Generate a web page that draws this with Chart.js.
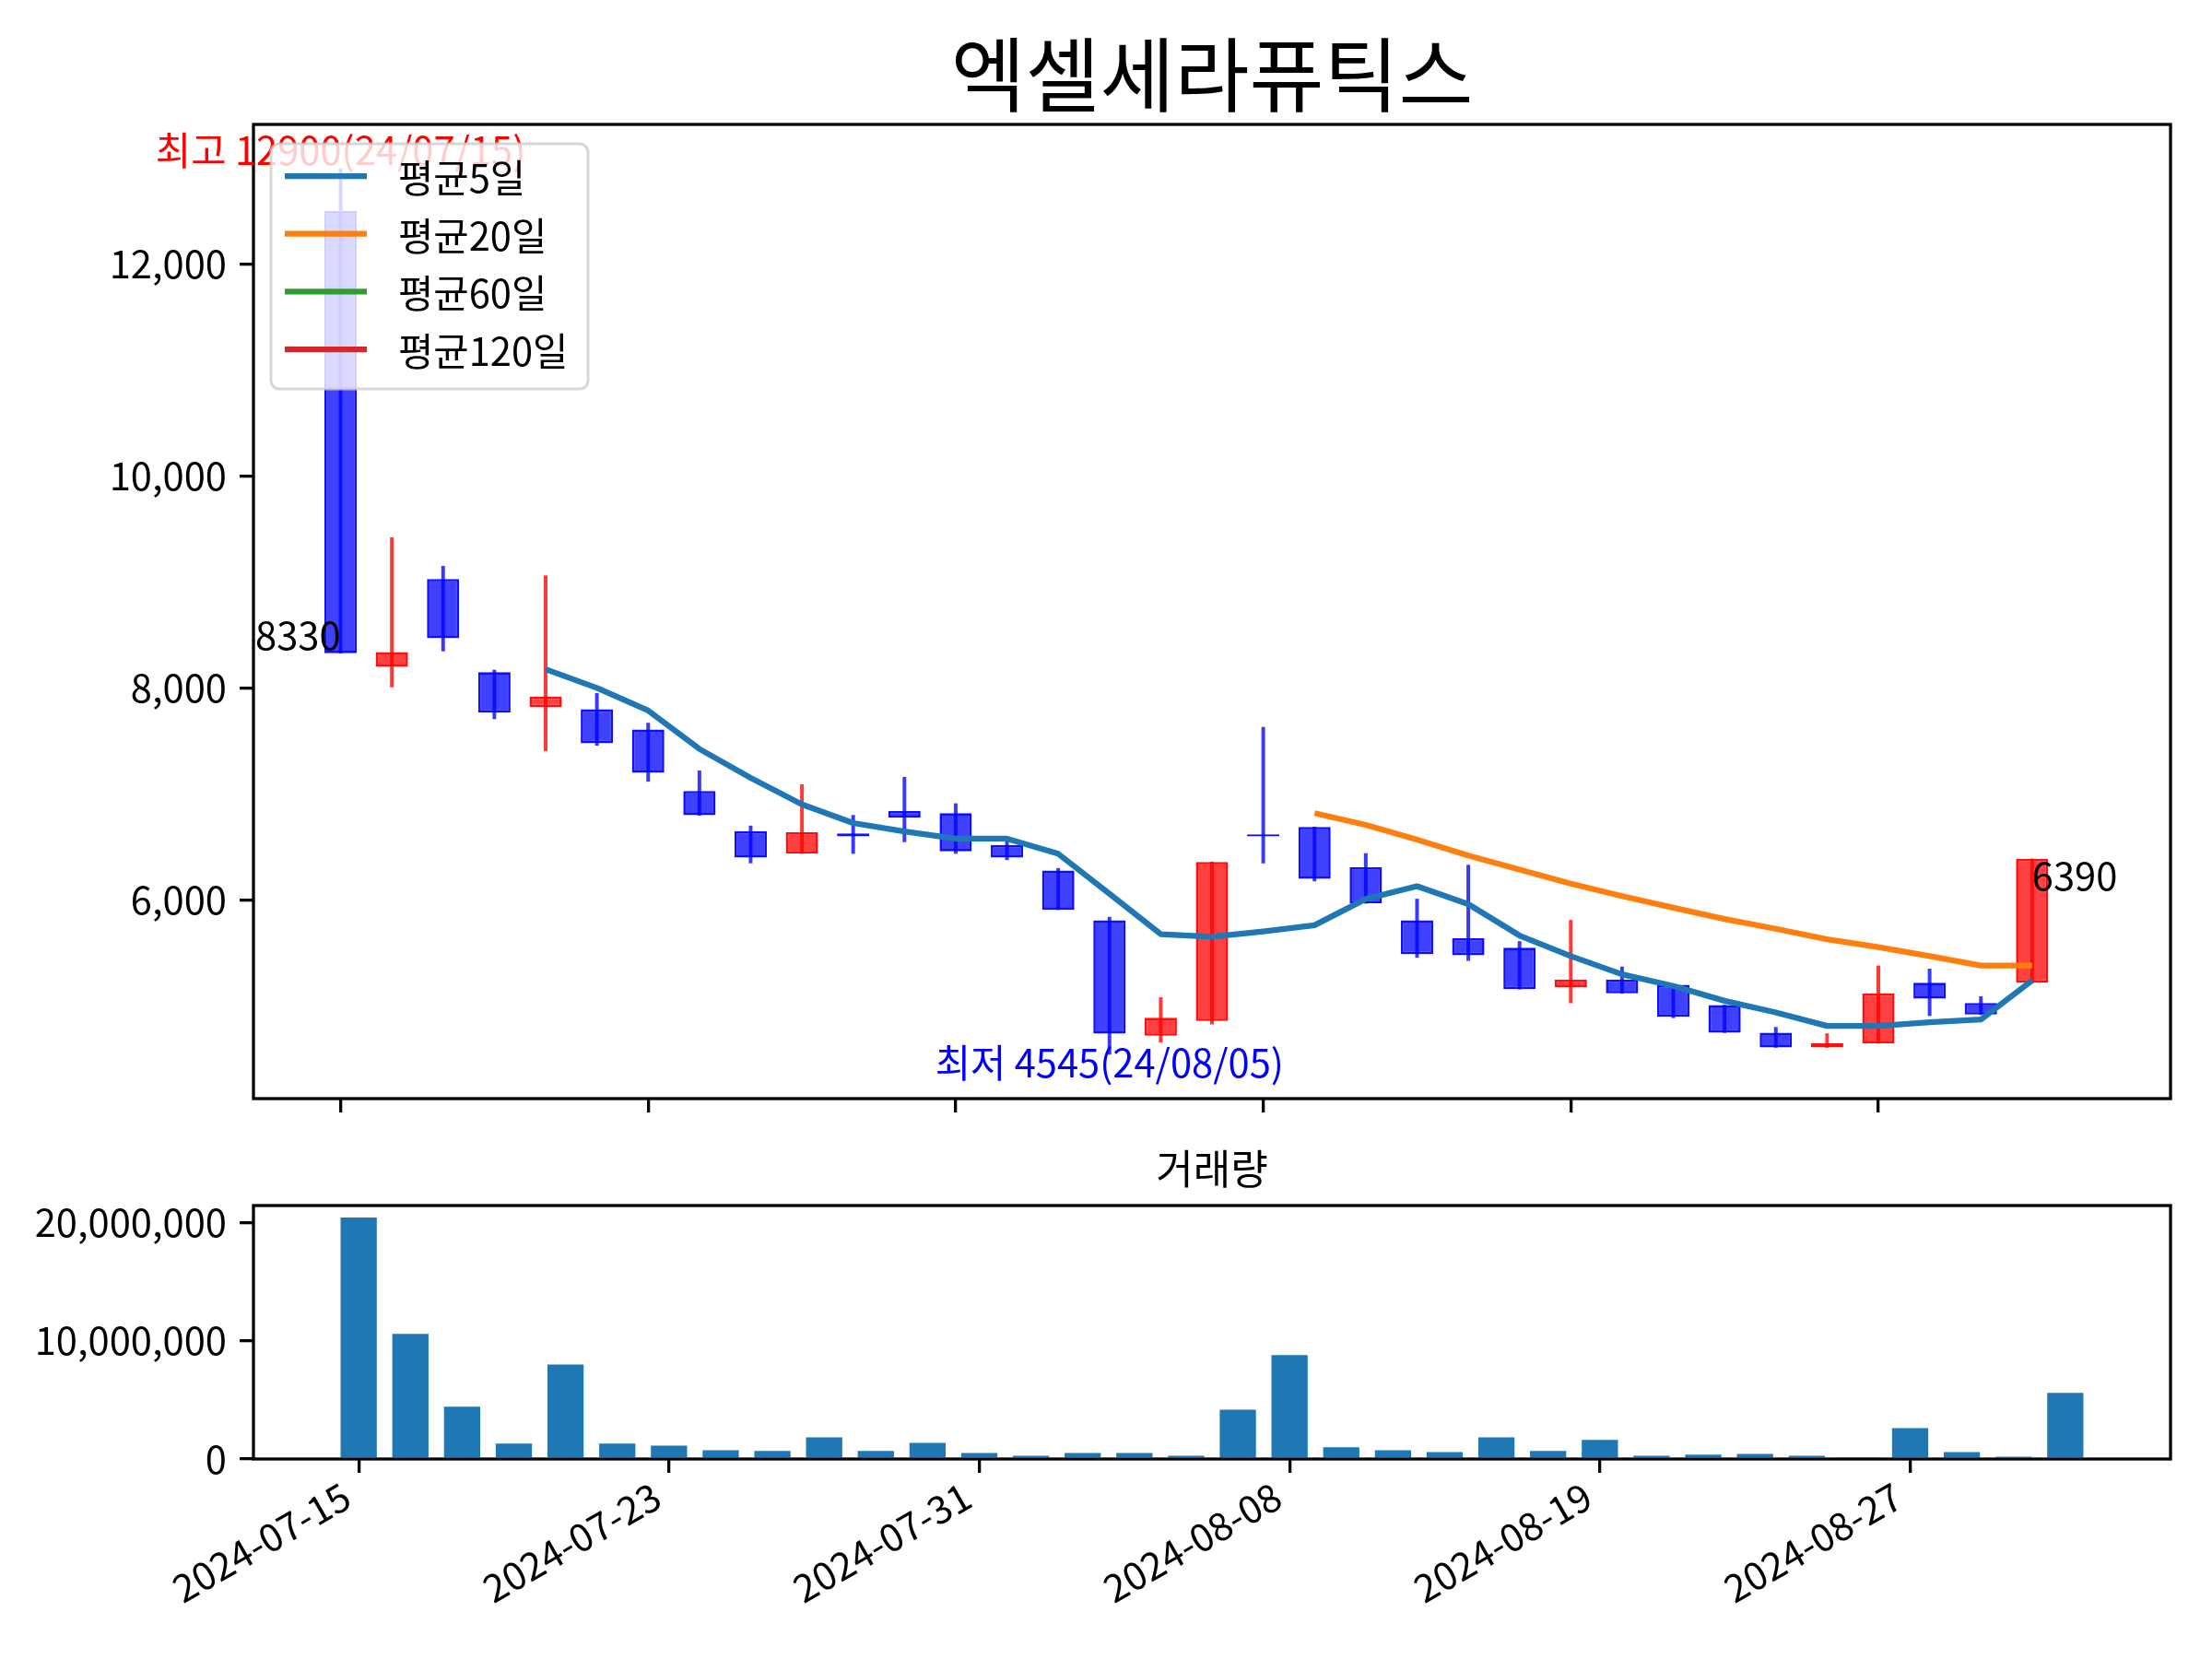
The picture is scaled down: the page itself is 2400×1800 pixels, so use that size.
<!DOCTYPE html>
<html>
<head>
<meta charset="utf-8">
<script src="https://cdn.jsdelivr.net/npm/chart.js@4.4.1/dist/chart.umd.min.js"></script>
<style>
html,body{margin:0;padding:0;background:#ffffff;}
body{width:2400px;height:1800px;position:relative;overflow:hidden;}
#wrapMain{position:absolute;left:0;top:0;width:2400px;height:1240px;}
#wrapVol{position:absolute;left:0;top:1200px;width:2400px;height:600px;}
canvas{display:block;}
</style>
</head>
<body>
<div id="wrapMain"><canvas id="main" width="2400" height="1240"></canvas></div>
<div id="wrapVol"><canvas id="vol" width="2400" height="600"></canvas></div>
<script>
// ---------------- data ----------------
const chartTitle = '엑셀세라퓨틱스';
const volumeTitle = '거래량';
const dates = ['2024-07-15','2024-07-16','2024-07-17','2024-07-18','2024-07-19','2024-07-22','2024-07-23','2024-07-24','2024-07-25','2024-07-26','2024-07-29','2024-07-30','2024-07-31','2024-08-01','2024-08-02','2024-08-05','2024-08-06','2024-08-07','2024-08-08','2024-08-09','2024-08-12','2024-08-13','2024-08-14','2024-08-16','2024-08-19','2024-08-20','2024-08-21','2024-08-22','2024-08-23','2024-08-26','2024-08-27','2024-08-28','2024-08-29','2024-08-30'];
const opens  = [12500,8200,9030,8150,7820,7800,7610,7030,6650,6440,6630,6840,6820,6520,6280,5810,4720,4860,6620,6690,6310,5810,5640,5550,5180,5250,5200,5010,4750,4610,4650,5220,5030,5220];
const highs  = [12900,9420,9150,8170,9060,7950,7670,7220,6700,7090,6800,7160,6910,6570,6300,5840,5080,6360,7630,6690,6440,6010,6330,5610,5810,5370,5200,5010,4800,4740,5380,5350,5090,6390];
const lows   = [8330,8010,8350,7710,7410,7460,7120,6800,6350,6440,6440,6550,6440,6380,5910,4545,4660,4830,6350,6180,5970,5460,5430,5160,5030,5120,4890,4750,4610,4610,4650,4910,4920,5220];
const closes = [8330,8340,8470,7770,7920,7480,7200,6800,6400,6640,6600,6780,6460,6400,5910,4740,4890,6360,6600,6200,5970,5490,5480,5160,5250,5120,4900,4750,4610,4650,5120,5070,4920,6390];
const volumes = [20400000,10570000,4420000,1300000,7990000,1300000,1130000,740000,680000,1840000,680000,1360000,510000,280000,510000,510000,280000,4160000,8780000,990000,740000,590000,1840000,680000,1610000,280000,370000,420000,280000,110000,2610000,590000,200000,5580000];
const ma5  = [null,null,null,null,8178,8002,7788,7426,7153,6903,6727,6647,6580,6580,6437,6060,5679,5655,5705,5763,6011,6131,5962,5666,5472,5300,5190,5050,4940,4813,4813,4847,4873,5242];
const ma20 = [null,null,null,null,null,null,null,null,null,null,null,null,null,null,null,null,null,null,null,6820,6710,6570,6421,6288,6155,6038,5928,5822,5729,5630,5556,5472,5383,5383];
const ma60 = [];
const ma120 = [];
const maLabels = ['평균5일','평균20일','평균60일','평균120일'];
const dateTickIndex = [0,6,12,18,24,30];
const priceTicks = [6000,8000,10000,12000];
const volumeTicks = [0,10000000,20000000];

// ---------------- styling ----------------
const FONT = '"Noto Sans CJK KR", "Noto Sans", sans-serif';
const FS = 41.7;
Chart.defaults.font.family = FONT;
Chart.defaults.color = '#000000';

const idx = dates.map((d, i) => i);
const isUp = idx.map(i => closes[i] > opens[i]);
const bodyFill = idx.map(i => isUp[i] ? 'rgba(255,0,0,0.75)' : 'rgba(0,0,255,0.75)');
const bodyEdge = idx.map(i => isUp[i] ? 'rgba(255,0,0,0.94)' : 'rgba(0,0,255,0.94)');
const wickColor = idx.map(i => isUp[i] ? 'rgba(255,0,0,0.78)' : 'rgba(0,0,255,0.78)');
const toPoints = arr => idx.filter(i => arr[i] !== null && arr[i] !== undefined).map(i => ({x: i, y: arr[i]}));

const tickGrid = {drawOnChartArea: false, drawTicks: true, tickLength: 15, tickWidth: 3.3, tickColor: '#000000', color: '#000000', lineWidth: 3.3, offset: false};

function roundRectPath(ctx, x, y, w, h, r) {
  ctx.beginPath();
  ctx.moveTo(x + r, y);
  ctx.lineTo(x + w - r, y);
  ctx.arcTo(x + w, y, x + w, y + r, r);
  ctx.lineTo(x + w, y + h - r);
  ctx.arcTo(x + w, y + h, x + w - r, y + h, r);
  ctx.lineTo(x + r, y + h);
  ctx.arcTo(x, y + h, x, y + h - r, r);
  ctx.lineTo(x, y + r);
  ctx.arcTo(x, y, x + r, y, r);
  ctx.closePath();
}

const mainOverlay = {
  id: 'mainOverlay',
  afterDatasetsDraw(chart) {
    const {ctx, chartArea: a} = chart;
    const xs = chart.scales.x, ys = chart.scales.y;
    ctx.save();
    // frame
    ctx.lineWidth = 3.3; ctx.strokeStyle = '#000000';
    ctx.strokeRect(a.left, a.top, a.right - a.left, a.bottom - a.top);
    // annotations
    ctx.font = FS + 'px ' + FONT;
    let hi = 0; highs.forEach((v, i) => { if (v > highs[hi]) hi = i; });
    let lo = 0; lows.forEach((v, i) => { if (v < lows[lo]) lo = i; });
    const fmt = d => d.slice(2).replace(/-/g, '/');
    ctx.fillStyle = '#ff0000'; ctx.textAlign = 'center'; ctx.textBaseline = 'alphabetic';
    ctx.fillText('최고 ' + highs[hi] + '(' + fmt(dates[hi]) + ')', xs.getPixelForValue(hi), ys.getPixelForValue(highs[hi]) - 4);
    ctx.fillStyle = '#0000ff'; ctx.textBaseline = 'top';
    ctx.fillText('최저 ' + lows[lo] + '(' + fmt(dates[lo]) + ')', xs.getPixelForValue(lo), ys.getPixelForValue(lows[lo]) - 12);
    ctx.fillStyle = '#000000'; ctx.textAlign = 'right'; ctx.textBaseline = 'alphabetic';
    ctx.fillText(String(closes[0]), xs.getPixelForValue(0), ys.getPixelForValue(closes[0]) - 4);
    const n = closes.length - 1;
    ctx.textAlign = 'left'; ctx.textBaseline = 'top';
    ctx.fillText(String(closes[n]), xs.getPixelForValue(n), ys.getPixelForValue(closes[n]) - 2);
    // legend
    const L = a.left + 19, T = a.top + 21, W = 344, H = 266;
    roundRectPath(ctx, L, T, W, H, 9);
    ctx.fillStyle = 'rgba(255,255,255,0.8)'; ctx.fill();
    ctx.lineWidth = 3; ctx.strokeStyle = 'rgba(204,204,204,0.8)'; ctx.stroke();
    ctx.textAlign = 'left'; ctx.textBaseline = 'middle';
    for (let k = 0; k < 4; k++) {
      const ds = chart.data.datasets[k];
      const yy = T + 35 + k * 62.7;
      ctx.strokeStyle = ds.borderColor; ctx.lineWidth = 6.25; ctx.lineCap = 'butt';
      ctx.beginPath(); ctx.moveTo(L + 15, yy); ctx.lineTo(L + 104, yy); ctx.stroke();
      ctx.fillStyle = '#000000';
      ctx.fillText(ds.label, L + 138, yy + 2);
    }
    ctx.restore();
  }
};

const volOverlay = {
  id: 'volOverlay',
  afterDatasetsDraw(chart) {
    const {ctx, chartArea: a} = chart;
    ctx.save();
    ctx.lineWidth = 3.3; ctx.strokeStyle = '#000000';
    ctx.strokeRect(a.left, a.top, a.right - a.left, a.bottom - a.top);
    ctx.restore();
  }
};

// ---------------- main price chart ----------------
new Chart(document.getElementById('main'), {
  type: 'bar',
  data: {
    datasets: [
      {type: 'line', label: maLabels[0], data: toPoints(ma5), borderColor: '#1f77b4', borderWidth: 6.25, pointRadius: 0, tension: 0, order: 0, borderJoinStyle: 'round'},
      {type: 'line', label: maLabels[1], data: toPoints(ma20), borderColor: '#ff7f0e', borderWidth: 6.25, pointRadius: 0, tension: 0, order: 0, borderJoinStyle: 'round'},
      {type: 'line', label: maLabels[2], data: toPoints(ma60), borderColor: '#2ca02c', borderWidth: 6.25, pointRadius: 0, order: 0},
      {type: 'line', label: maLabels[3], data: toPoints(ma120), borderColor: '#d62728', borderWidth: 6.25, pointRadius: 0, order: 0},
      {type: 'bar', label: 'wick', data: idx.map(i => ({x: i, y: [lows[i], highs[i]]})), backgroundColor: wickColor, borderWidth: 0, barThickness: 3.3, grouped: false, order: 1},
      {type: 'bar', label: 'body', data: idx.map(i => ({x: i, y: [opens[i], closes[i]]})), backgroundColor: bodyFill, borderColor: bodyEdge, borderWidth: 2.6, borderSkipped: false, barPercentage: 0.63, categoryPercentage: 1, grouped: false, order: 2}
    ]
  },
  options: {
    responsive: false,
    animation: false,
    devicePixelRatio: 1,
    layout: {padding: {left: 0, right: 45, top: 0, bottom: 0}},
    scales: {
      x: {
        type: 'linear', min: -1.7, max: 35.7, offset: false,
        afterBuildTicks: s => { s.ticks = dateTickIndex.map(v => ({value: v})); },
        afterFit: s => { s.height = 48; },
        ticks: {display: false},
        grid: tickGrid,
        border: {display: false}
      },
      y: {
        type: 'linear', min: 4127.25, max: 13317.75, beginAtZero: false,
        afterBuildTicks: s => { s.ticks = priceTicks.map(v => ({value: v})); },
        afterFit: s => { s.width = 275; },
        ticks: {callback: v => Number(v).toLocaleString('en-US'), font: {size: FS}, padding: 14, color: '#000000'},
        grid: tickGrid,
        border: {display: false}
      }
    },
    plugins: {
      legend: {display: false},
      tooltip: {enabled: false},
      title: {display: true, fullSize: false, text: chartTitle, color: '#000000', font: {size: 88, weight: 'normal', lineHeight: 1}, padding: {top: 37, bottom: 10}}
    }
  },
  plugins: [mainOverlay]
});

// ---------------- volume chart ----------------
new Chart(document.getElementById('vol'), {
  type: 'bar',
  data: {
    datasets: [
      {label: volumeTitle, data: idx.map(i => ({x: i, y: volumes[i]})), backgroundColor: '#1f77b4', borderWidth: 0, barPercentage: 0.7, categoryPercentage: 1}
    ]
  },
  options: {
    responsive: false,
    animation: false,
    devicePixelRatio: 1,
    layout: {padding: {left: 0, right: 45, top: 0, bottom: 0}},
    scales: {
      x: {
        type: 'linear', min: -2.035, max: 35.035, offset: false,
        afterBuildTicks: s => { s.ticks = dateTickIndex.map(v => ({value: v})); },
        afterFit: s => { s.height = 217; },
        ticks: {callback: v => dates[v], autoSkip: false, minRotation: 30, maxRotation: 30, font: {size: FS}, padding: 0, labelOffset: -13, color: '#000000'},
        grid: tickGrid,
        border: {display: false}
      },
      y: {
        type: 'linear', min: 0, max: Math.max(...volumes) * 1.05, beginAtZero: true,
        afterBuildTicks: s => { s.ticks = volumeTicks.map(v => ({value: v})); },
        afterFit: s => { s.width = 275; },
        ticks: {callback: v => Number(v).toLocaleString('en-US'), font: {size: FS}, padding: 14, color: '#000000'},
        grid: tickGrid,
        border: {display: false}
      }
    },
    plugins: {
      legend: {display: false},
      tooltip: {enabled: false},
      title: {display: true, fullSize: false, text: volumeTitle, color: '#000000', font: {size: 44, weight: 'normal', lineHeight: 1}, padding: {top: 46, bottom: 18}}
    }
  },
  plugins: [volOverlay]
});
</script>
</body>
</html>
